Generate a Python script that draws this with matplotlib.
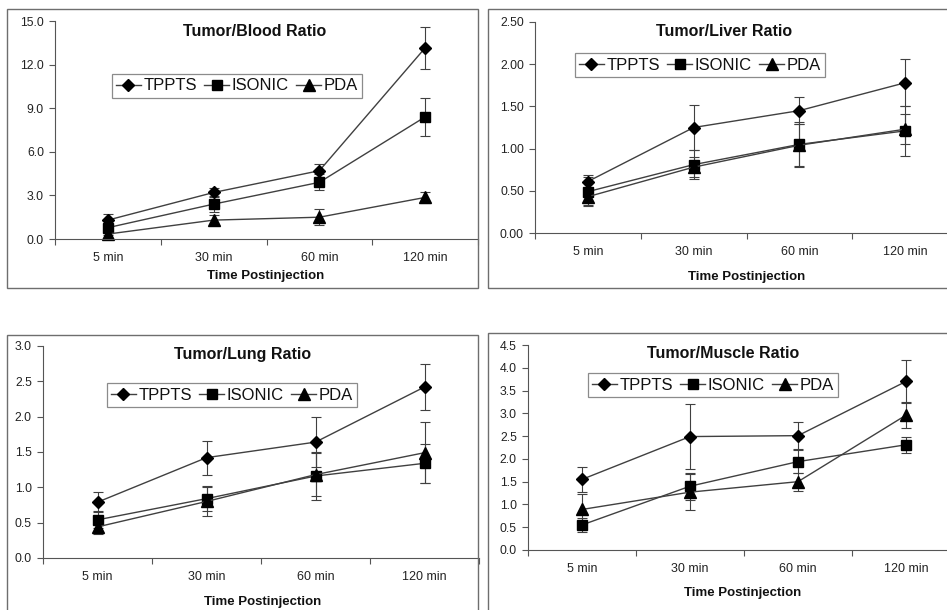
import matplotlib
matplotlib.use("Agg")
import matplotlib.pyplot as plt
from matplotlib.patches import Rectangle

plt.rcParams['font.family'] = ['Liberation Sans', 'DejaVu Sans']

W, H = 947, 610

times = ['5 min', '30 min', '60 min', '120 min']
series = ['TPPTS', 'ISONIC', 'PDA']

# Tumor/Blood
blood_vals = [[1.3, 3.2, 4.7, 13.15], [0.78, 2.4, 3.9, 8.4], [0.34, 1.3, 1.5, 2.86]]
blood_err = [[0.45, 0.3, 0.45, 1.45], [0.5, 0.55, 0.55, 1.3], [0.3, 0.35, 0.55, 0.4]]
# Tumor/Liver
liver_vals = [[0.61, 1.25, 1.45, 1.78], [0.49, 0.81, 1.05, 1.21], [0.43, 0.78, 1.04, 1.23]]
liver_err = [[0.08, 0.27, 0.16, 0.28], [0.17, 0.17, 0.27, 0.3], [0.1, 0.12, 0.25, 0.18]]
# Tumor/Lung
lung_vals = [[0.79, 1.42, 1.64, 2.42], [0.54, 0.84, 1.16, 1.34], [0.44, 0.8, 1.18, 1.49]]
lung_err = [[0.14, 0.24, 0.35, 0.33], [0.12, 0.18, 0.34, 0.28], [0.1, 0.2, 0.3, 0.43]]
# Tumor/Muscle
muscle_vals = [[1.55, 2.49, 2.51, 3.7], [0.55, 1.4, 1.94, 2.31], [0.89, 1.27, 1.5, 2.96]]
muscle_err = [[0.28, 0.71, 0.3, 0.47], [0.15, 0.3, 0.26, 0.17], [0.35, 0.4, 0.2, 0.28]]

markers = ['D', 's', '^']
msizes = [6, 7, 8]

# panel layout in pixels: frame (x0, y0, x1, y1), axes (left, top, right, bottom)
panels = [
    dict(title='Tumor/Blood Ratio', vals=blood_vals, err=blood_err, ymax=15.0, step=3.0, fmt='%.1f',
         frame=(7, 9, 478, 288), ax=(55, 21, 478, 239), title_xy=(255, 31),
         xl_xy=(266, 276), leg_xy=(237, 86)),
    dict(title='Tumor/Liver Ratio', vals=liver_vals, err=liver_err, ymax=2.5, step=0.5, fmt='%.2f',
         frame=(488, 9, 962, 288), ax=(535, 22, 958, 233), title_xy=(724, 31),
         xl_xy=(747, 277), leg_xy=(700, 65)),
    dict(title='Tumor/Lung Ratio', vals=lung_vals, err=lung_err, ymax=3.0, step=0.5, fmt='%.1f',
         frame=(7, 335, 478, 625), ax=(43, 346, 479, 558), title_xy=(243, 354),
         xl_xy=(263, 602), leg_xy=(232, 395)),
    dict(title='Tumor/Muscle Ratio', vals=muscle_vals, err=muscle_err, ymax=4.5, step=0.5, fmt='%.1f',
         frame=(488, 333, 962, 625), ax=(528, 345, 960, 550), title_xy=(723, 354),
         xl_xy=(743, 593), leg_xy=(713, 385)),
]

fig = plt.figure(figsize=(W / 100, H / 100), dpi=100)

for p in panels:
    fx0, fy0, fx1, fy1 = p['frame']
    fig.patches.append(Rectangle((fx0 / W, 1 - fy1 / H), (fx1 - fx0) / W, (fy1 - fy0) / H,
                                 transform=fig.transFigure, fill=False,
                                 edgecolor='#6e6e6e', linewidth=1.0))
    l, t, r, b = p['ax']
    ax = fig.add_axes([l / W, 1 - b / H, (r - l) / W, (b - t) / H])
    ax.set_facecolor('none')
    xs = [i + 0.5 for i in range(len(times))]
    handles = []
    for k, name in enumerate(series):
        eb = ax.errorbar(xs, p['vals'][k], yerr=p['err'][k], color='#404040', lw=1.0,
                         marker=markers[k], ms=msizes[k], mfc='black', mec='black',
                         ecolor='#404040', elinewidth=0.8, capsize=3.5, capthick=0.8,
                         label=name, clip_on=False)
        handles.append(eb)
    ax.set_xlim(0, len(times))
    ax.set_ylim(0, p['ymax'])
    yt = [i * p['step'] for i in range(int(round(p['ymax'] / p['step'])) + 1)]
    ax.set_yticks(yt)
    ax.set_yticklabels([p['fmt'] % v for v in yt])
    ax.set_xticks(range(len(times) + 1))
    ax.set_xticklabels([])
    ax.set_xticks(xs, minor=True)
    ax.set_xticklabels(times, minor=True)
    ax.tick_params(axis='x', which='minor', length=0, pad=9.5, labelsize=9, labelcolor='#222222')
    ax.tick_params(axis='x', which='major', length=4, width=0.8, color='#555555')
    ax.tick_params(axis='y', length=4, width=0.8, color='#555555', pad=4, labelsize=8.8,
                   labelcolor='#222222')
    for s in ['top', 'right']:
        ax.spines[s].set_visible(False)
    for s in ['left', 'bottom']:
        ax.spines[s].set_color('#555555')
        ax.spines[s].set_linewidth(0.8)
    fig.text(p['title_xy'][0] / W, 1 - p['title_xy'][1] / H, p['title'], ha='center', va='center',
             fontsize=11.5, fontweight='bold', color='#111111')
    fig.text(p['xl_xy'][0] / W, 1 - p['xl_xy'][1] / H, 'Time Postinjection', ha='center',
             va='center', fontsize=9.5, fontweight='bold', color='#111111')
    h2 = [h[0] for h in handles]
    leg = ax.legend(h2, series, ncol=3, loc='center',
                    bbox_to_anchor=(p['leg_xy'][0] / W, 1 - p['leg_xy'][1] / H),
                    bbox_transform=fig.transFigure, fontsize=12, frameon=True, fancybox=False,
                    edgecolor='#6e6e6e', borderpad=0.25, handlelength=1.5, handletextpad=0.15,
                    columnspacing=0.45, borderaxespad=0)
    leg.get_frame().set_linewidth(0.9)
    for txt in leg.get_texts():
        txt.set_color('#111111')

fig.savefig('out.png', dpi=100)
